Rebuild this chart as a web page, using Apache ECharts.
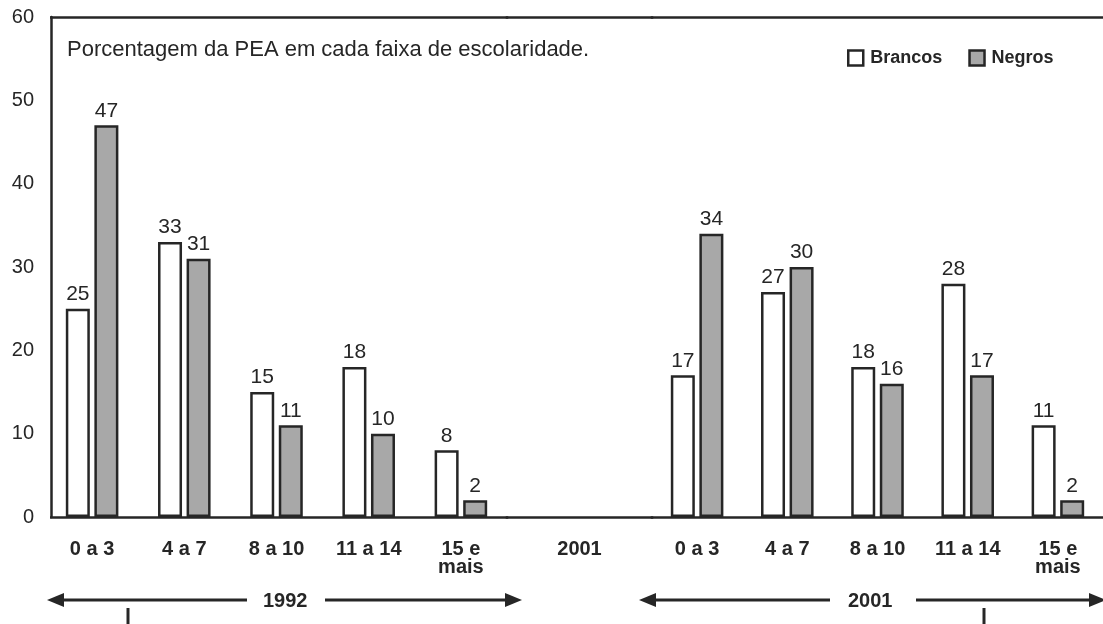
<!DOCTYPE html>
<html>
<head>
<meta charset="utf-8">
<script src="https://cdn.jsdelivr.net/npm/echarts@6/dist/echarts.min.js"></script>
<style>
  html, body { margin: 0; padding: 0; background: #fff; }
  #chart { width: 1103px; height: 624px; }
</style>
</head>
<body>
<div id="chart"></div>
<script>
// faixas de escolaridade (anos de estudo)
const categories = ['0 a 3', '4 a 7', '8 a 10', '11 a 14', '15 e\nmais']
const middleLabel = ['2001']
const brancos1992 = [25, 33, 15, 18, 8]
const negros1992 = [47, 31, 11, 10, 2]
const brancos2001 = [17, 27, 18, 28, 11]
const negros2001 = [34, 30, 16, 17, 2]

const INK = '#262626'
const GREY = '#a8a8a8'
const FONT = '"Liberation Sans", Arial, Helvetica, sans-serif'

const chart = echarts.init(document.getElementById('chart'))

// eixo x de baixo + linha de cima (moldura) para cada painel
function bottomAxis(gridIndex, data) {
  return {
    type: 'category', gridIndex, data, position: 'bottom',
    axisLine: { lineStyle: { color: INK, width: 2.5, cap: 'square' } },
    axisTick: { show: false },
    axisLabel: {
      color: INK, fontFamily: FONT, fontWeight: 'bold', fontSize: 20,
      lineHeight: 18, margin: 23, interval: 0,
    },
  }
}
function topAxis(gridIndex, data) {
  return {
    type: 'category', gridIndex, data, position: 'top',
    axisLine: { lineStyle: { color: INK, width: 2.5, cap: 'square' } },
    axisTick: { show: false },
    axisLabel: { show: false },
  }
}
function yAxis(gridIndex, show, offset) {
  return {
    type: 'value', gridIndex, min: 0, max: 60, interval: 10, offset,
    axisLine: { show, lineStyle: { color: INK, width: 2.5 } },
    axisTick: { show: false },
    splitLine: { show: false },
    axisLabel: { show, color: INK, fontFamily: FONT, fontSize: 20, margin: 17 },
  }
}

const barLabel = {
  show: true, position: 'top', distance: 4,
  color: INK, fontFamily: FONT, fontSize: 21,
}
function barSeries(name, data, axisIndex, fill) {
  return {
    name, type: 'bar', data,
    xAxisIndex: axisIndex, yAxisIndex: axisIndex,
    barWidth: 24, barGap: '19%',
    itemStyle: { color: fill, borderColor: INK, borderWidth: 2.5 },
    label: barLabel,
    emphasis: { disabled: true },
  }
}

chart.setOption({
  animation: false,
  title: {
    text: 'Porcentagem da PEA em cada faixa de escolaridade.',
    left: 62, top: 34,
    textStyle: { color: INK, fontFamily: FONT, fontSize: 22, fontWeight: 'normal' },
  },
  legend: {
    data: ['Brancos', 'Negros'],
    left: 842, top: 44,
    itemWidth: 15, itemHeight: 15, itemGap: 26,
    icon: 'rect',
    itemStyle: { borderColor: INK, borderWidth: 2.5 },
    textStyle: { color: INK, fontFamily: FONT, fontSize: 18, fontWeight: 'bold', padding: [0, 0, 0, 2] },
  },
  grid: [
    { left: 46, width: 461, top: 17, bottom: 107 },
    { left: 507, width: 145, top: 17, bottom: 107 },
    { left: 652, width: 463, top: 17, bottom: 107 },
  ],
  xAxis: [
    bottomAxis(0, categories), bottomAxis(1, middleLabel), bottomAxis(2, categories),
    topAxis(0, categories), topAxis(1, middleLabel), topAxis(2, categories),
  ],
  yAxis: [yAxis(0, true, -5), yAxis(1, false, 0), yAxis(2, false, 0)],
  series: [
    barSeries('Brancos', brancos1992, 0, '#ffffff'),
    barSeries('Negros', negros1992, 0, GREY),
    barSeries('Brancos', brancos2001, 2, '#ffffff'),
    barSeries('Negros', negros2001, 2, GREY),
  ],
  graphic: [
    // cobre a sobra da moldura à esquerda do eixo y
    { type: 'rect', shape: { x: 40, y: 10, width: 10, height: 520 }, style: { fill: '#fff' }, z: 100 },
    // seta 1992
    { type: 'line', shape: { x1: 62, y1: 600, x2: 247, y2: 600 }, style: { stroke: INK, lineWidth: 3 } },
    { type: 'polygon', shape: { points: [[47, 600], [64, 593], [64, 607]] }, style: { fill: INK } },
    { type: 'text', left: 263, top: 591, style: { text: '1992', fill: INK, font: 'bold 20px ' + FONT } },
    { type: 'line', shape: { x1: 325, y1: 600, x2: 508, y2: 600 }, style: { stroke: INK, lineWidth: 3 } },
    { type: 'polygon', shape: { points: [[522, 600], [505, 593], [505, 607]] }, style: { fill: INK } },
    { type: 'line', shape: { x1: 128, y1: 608, x2: 128, y2: 630 }, style: { stroke: INK, lineWidth: 3 } },
    // seta 2001
    { type: 'line', shape: { x1: 654, y1: 600, x2: 830, y2: 600 }, style: { stroke: INK, lineWidth: 3 } },
    { type: 'polygon', shape: { points: [[639, 600], [656, 593], [656, 607]] }, style: { fill: INK } },
    { type: 'text', left: 848, top: 591, style: { text: '2001', fill: INK, font: 'bold 20px ' + FONT } },
    { type: 'line', shape: { x1: 916, y1: 600, x2: 1092, y2: 600 }, style: { stroke: INK, lineWidth: 3 } },
    { type: 'polygon', shape: { points: [[1106, 600], [1089, 593], [1089, 607]] }, style: { fill: INK } },
    { type: 'line', shape: { x1: 984, y1: 608, x2: 984, y2: 630 }, style: { stroke: INK, lineWidth: 3 } },
  ],
})
</script>
</body>
</html>
